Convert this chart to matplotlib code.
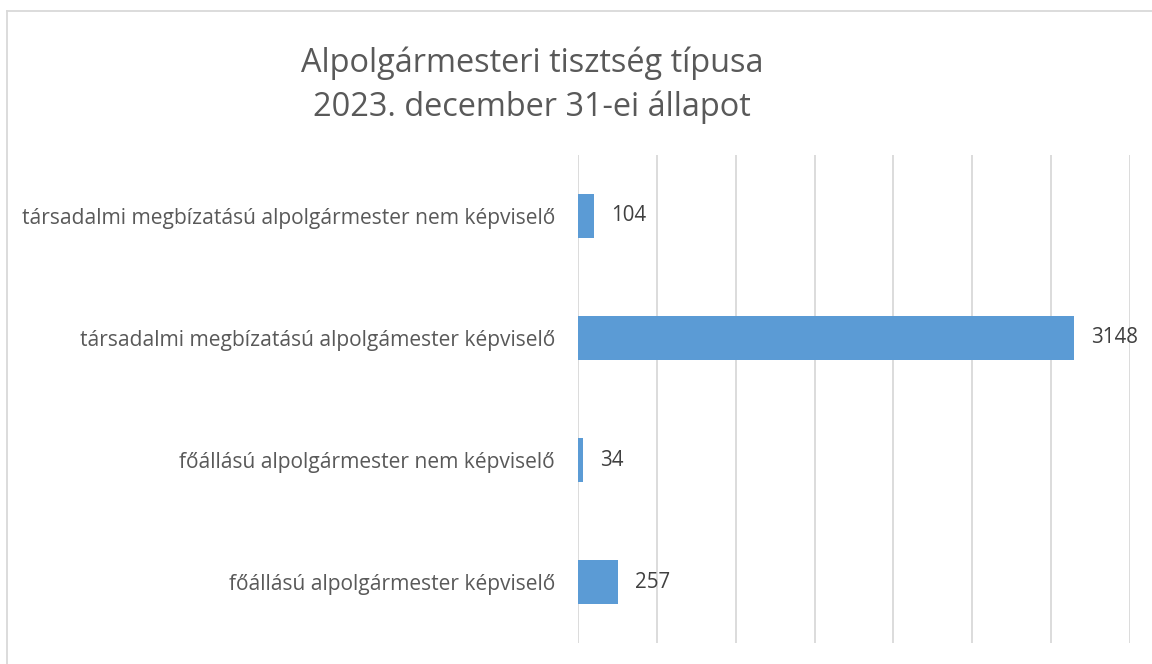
import matplotlib.pyplot as plt
from matplotlib.lines import Line2D

categories = ['főállású alpolgármester képviselő',
              'főállású alpolgármester nem képviselő',
              'társadalmi megbízatású alpolgámester képviselő',
              'társadalmi megbízatású alpolgármester nem képviselő']
values = [257, 34, 3148, 104]
title_text = 'Alpolgármesteri tisztség típusa\n2023. december 31-ei állapot'

plt.rcParams['font.family'] = ['Open Sans', 'DejaVu Sans']

fig = plt.figure(figsize=(11.52, 6.64), dpi=100)
ax = fig.add_axes([0.5017, 0.0316, 0.4792, 0.735])

ypos = list(range(len(categories)))
ax.barh(ypos, values, height=0.36, color='#5B9BD5', zorder=2)
ax.set_xlim(0, 3500)
ax.set_ylim(-0.5, len(categories) - 0.5)
ax.set_xticks(range(0, 3501, 500))
ax.xaxis.grid(True, color='#D9D9D9', linewidth=1.3, zorder=0)
ax.tick_params(axis='x', length=0, labelbottom=False)
ax.tick_params(axis='y', length=0, pad=16.5, labelsize=15.1, labelcolor='#595959')
ax.set_yticks(ypos)
ax.set_yticklabels(categories)
for s in ax.spines.values():
    s.set_visible(False)

for y, v in zip(ypos, values):
    ax.annotate(str(v), (v, y), xytext=(12, 0), textcoords='offset points',
                va='center', ha='left', fontsize=14.8, color='#404040')

fig.text(0.462, 0.872, title_text, ha='center', va='center', fontsize=23.4,
         color='#595959', linespacing=1.43)

# chart border (left and top only visible)
fig.add_artist(Line2D([0.0065, 0.0065], [0, 0.983], color='#D9D9D9', lw=1.3))
fig.add_artist(Line2D([0.0065, 1.0], [0.983, 0.983], color='#D9D9D9', lw=1.3))

plt.savefig('out.png', dpi=100)
